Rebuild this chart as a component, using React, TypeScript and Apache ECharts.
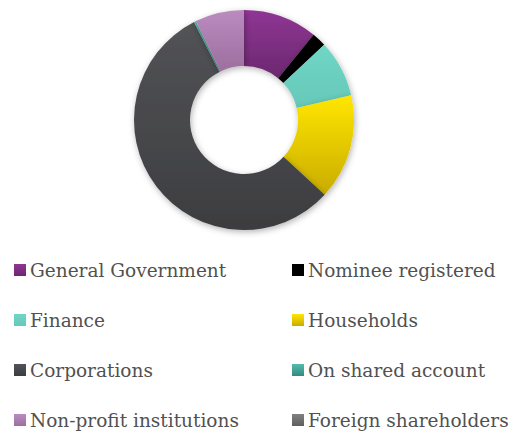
import React, { useEffect, useRef } from "react";
import * as echarts from "echarts";

const categories = [
  "General Government",
  "Nominee registered",
  "Finance",
  "Households",
  "Corporations",
  "On shared account",
  "Non-profit institutions",
  "Foreign shareholders",
];
const values = [10.9, 2.1, 8.4, 15.5, 55.6, 0.3, 7.2, 0.0];
const colorTop = ["#8f3694", "#000000", "#70d6c6", "#ffe600", "#525356", "#52bcac", "#bb8bbf", "#808080"];
const colorBottom = ["#6c286f", "#000000", "#66c8b8", "#c9ac00", "#3c3d40", "#358a7f", "#9c6f9f", "#5e5e5e"];

export default function App() {
  const ref = useRef<HTMLDivElement>(null);
  useEffect(() => {
    if (!ref.current) return;
    const chart = echarts.init(ref.current, undefined, { renderer: "svg" });
    const grad = (i: number) =>
      new echarts.graphic.LinearGradient(0, 0, 0, 1, [
        { offset: 0, color: colorTop[i] },
        { offset: 1, color: colorBottom[i] },
      ]);
    const legends = categories.map((c, i) => ({
      orient: "horizontal" as const,
      left: i % 2 === 0 ? 14 : 292,
      top: 260 + Math.floor(i / 2) * 50,
      padding: 0,
      itemWidth: 12,
      itemHeight: 12,
      icon: "rect",
      selectedMode: false,
      data: [c],
      textStyle: {
        fontFamily: "DejaVu Serif",
        fontSize: 18.5,
        color: "#515151",
        lineHeight: 20,
        padding: [0, 0, 0, -1],
      },
    }));
    chart.setOption({
      animation: false,
      legend: legends,
      series: [
        {
          type: "pie",
          center: [244, 120],
          radius: [54, 110],
          startAngle: 90,
          clockwise: true,
          label: { show: false },
          labelLine: { show: false },
          emphasis: { disabled: true },
          itemStyle: {
            shadowBlur: 6,
            shadowColor: "rgba(0,0,0,0.3)",
            shadowOffsetX: 1,
            shadowOffsetY: 2,
          },
          data: categories.map((c, i) => ({
            name: c,
            value: values[i],
            itemStyle: { color: grad(i) },
          })),
        },
      ],
    });
    return () => chart.dispose();
  }, []);
  return (
    <div
      ref={ref}
      style={{ position: "absolute", left: 0, top: 0, width: 510, height: 432, background: "#fff" }}
    />
  );
}
